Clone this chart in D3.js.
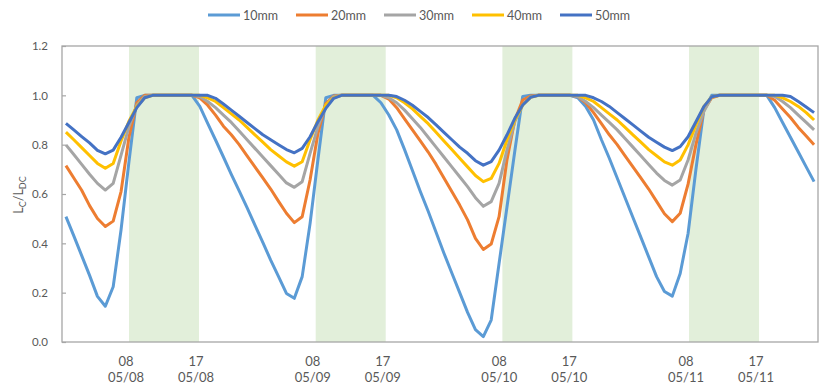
<!DOCTYPE html>
<html>
<head>
<meta charset="utf-8">
<script src="https://cdn.jsdelivr.net/npm/d3@7"></script>
<style>
  body { margin: 0; background: #fff; }
  text { font-family: Lato, "Open Sans", "Liberation Sans", sans-serif; fill: #595959; }
</style>
</head>
<body>
<svg id="chart" width="821" height="389"></svg>
<script>
// Hourly light ratio Lc/LDC for five depths, 05/08 00:00 – 05/11 23:00
const seriesNames = ["10mm", "20mm", "30mm", "40mm", "50mm"];
const seriesColors = ["#5B9BD5", "#ED7D31", "#A5A5A5", "#FFC000", "#4472C4"];

const mm10 = [
  0.508, 0.43, 0.35, 0.27, 0.185, 0.145, 0.224, 0.455, 0.73, 0.99, 1.0, 1.0,
  1.0, 1.0, 1.0, 1.0, 1.0, 0.955, 0.886, 0.819, 0.75, 0.68, 0.613, 0.545,
  0.474, 0.404, 0.332, 0.265, 0.197, 0.177, 0.265, 0.48, 0.74, 0.99, 1.0, 1.0,
  1.0, 1.0, 1.0, 1.0, 0.97, 0.92, 0.86, 0.78, 0.695, 0.61, 0.53, 0.445,
  0.36, 0.28, 0.2, 0.12, 0.05, 0.022, 0.089, 0.318, 0.546, 0.774, 0.995, 1.0,
  1.0, 1.0, 1.0, 1.0, 1.0, 0.99, 0.955, 0.9, 0.82, 0.745, 0.665, 0.585,
  0.505, 0.425, 0.345, 0.265, 0.205, 0.186, 0.278, 0.44, 0.70, 0.94, 1.0, 1.0,
  1.0, 1.0, 1.0, 1.0, 1.0, 1.0, 0.95, 0.89, 0.83, 0.77, 0.71, 0.65
];
const mm20 = [
  0.715, 0.665, 0.615, 0.553, 0.501, 0.468, 0.49, 0.61, 0.83, 0.97, 1.0, 1.0,
  1.0, 1.0, 1.0, 1.0, 1.0, 0.99, 0.96, 0.92, 0.875, 0.84, 0.80, 0.755,
  0.71, 0.665, 0.62, 0.57, 0.522, 0.484, 0.508, 0.657, 0.846, 0.967, 0.997, 1.0,
  1.0, 1.0, 1.0, 1.0, 1.0, 0.985, 0.95, 0.905, 0.86, 0.815, 0.77, 0.72,
  0.665, 0.61, 0.555, 0.495, 0.42, 0.375, 0.397, 0.508, 0.738, 0.9, 0.981, 0.997,
  1.0, 1.0, 1.0, 1.0, 1.0, 0.995, 0.97, 0.93, 0.885, 0.84, 0.80, 0.755,
  0.71, 0.665, 0.62, 0.57, 0.52, 0.488, 0.522, 0.64, 0.80, 0.94, 0.99, 1.0,
  1.0, 1.0, 1.0, 1.0, 1.0, 1.0, 0.98, 0.945, 0.91, 0.87, 0.835, 0.80
];
const mm30 = [
  0.799, 0.76, 0.72, 0.68, 0.643, 0.616, 0.643, 0.758, 0.873, 0.96, 0.995, 1.0,
  1.0, 1.0, 1.0, 1.0, 1.0, 0.995, 0.975, 0.95, 0.92, 0.89, 0.855, 0.82,
  0.785, 0.75, 0.715, 0.68, 0.645, 0.627, 0.65, 0.765, 0.873, 0.96, 0.995, 1.0,
  1.0, 1.0, 1.0, 1.0, 1.0, 0.99, 0.97, 0.94, 0.905, 0.87, 0.83, 0.79,
  0.75, 0.71, 0.67, 0.63, 0.585, 0.55, 0.569, 0.643, 0.778, 0.893, 0.961, 0.994,
  1.0, 1.0, 1.0, 1.0, 1.0, 0.995, 0.975, 0.95, 0.92, 0.89, 0.86, 0.825,
  0.79, 0.755, 0.72, 0.685, 0.655, 0.636, 0.657, 0.738, 0.846, 0.934, 0.994, 1.0,
  1.0, 1.0, 1.0, 1.0, 1.0, 1.0, 0.995, 0.975, 0.95, 0.92, 0.89, 0.86
];
const mm40 = [
  0.851, 0.82, 0.788, 0.756, 0.724, 0.704, 0.724, 0.815, 0.895, 0.955, 0.99, 1.0,
  1.0, 1.0, 1.0, 1.0, 1.0, 1.0, 0.99, 0.975, 0.95, 0.925, 0.9, 0.87,
  0.84, 0.81, 0.78, 0.755, 0.73, 0.713, 0.731, 0.82, 0.9, 0.96, 0.99, 1.0,
  1.0, 1.0, 1.0, 1.0, 1.0, 1.0, 0.99, 0.97, 0.945, 0.915, 0.885, 0.85,
  0.815, 0.78, 0.745, 0.71, 0.675, 0.65, 0.663, 0.724, 0.819, 0.9, 0.961, 0.992,
  1.0, 1.0, 1.0, 1.0, 1.0, 1.0, 0.99, 0.975, 0.95, 0.925, 0.9, 0.87,
  0.84, 0.81, 0.78, 0.755, 0.73, 0.717, 0.738, 0.799, 0.88, 0.954, 0.994, 1.0,
  1.0, 1.0, 1.0, 1.0, 1.0, 1.0, 1.0, 0.99, 0.975, 0.955, 0.93, 0.90
];
const mm50 = [
  0.886, 0.86, 0.833, 0.807, 0.777, 0.763, 0.778, 0.83, 0.89, 0.95, 0.99, 1.0,
  1.0, 1.0, 1.0, 1.0, 1.0, 1.0, 1.0, 0.988, 0.965, 0.94, 0.915, 0.89,
  0.865, 0.84, 0.82, 0.80, 0.78, 0.767, 0.785, 0.832, 0.893, 0.947, 0.988, 1.0,
  1.0, 1.0, 1.0, 1.0, 1.0, 1.0, 0.995, 0.98, 0.96, 0.935, 0.91, 0.88,
  0.85, 0.82, 0.79, 0.765, 0.735, 0.717, 0.731, 0.778, 0.839, 0.907, 0.961, 0.992,
  1.0, 1.0, 1.0, 1.0, 1.0, 1.0, 1.0, 0.99, 0.975, 0.955, 0.93, 0.905,
  0.88, 0.855, 0.83, 0.81, 0.79, 0.776, 0.792, 0.832, 0.893, 0.954, 0.994, 1.0,
  1.0, 1.0, 1.0, 1.0, 1.0, 1.0, 1.0, 1.0, 0.995, 0.975, 0.953, 0.93
];
const seriesValues = [mm10, mm20, mm30, mm40, mm50];

// Daylight windows (hours from 05/08 00:00) and axis labels
const dayBands = [[8, 17], [32, 41], [56, 65], [80, 89]];
const tickHours = [8, 17, 32, 41, 56, 65, 80, 89];
const tickHourLabels = ["08", "17", "08", "17", "08", "17", "08", "17"];
const tickDateLabels = ["05/08", "05/08", "05/09", "05/09", "05/10", "05/10", "05/11", "05/11"];
const yTicks = [0, 0.2, 0.4, 0.6, 0.8, 1.0, 1.2];

const svg = d3.select("#chart");
const plot = { left: 62, right: 818, top: 46, bottom: 342 };

// One category per hourly sample
const xCat = d3.scaleBand()
  .domain(d3.range(mm10.length))
  .range([plot.left, plot.right]);
const xPoint = i => xCat(i) + xCat.bandwidth() / 2;

// Clock-time scale for the daylight shading and the time labels
const xHour = d3.scaleLinear().domain([0, 96]).range([66.8, 813.5]);

const y = d3.scaleLinear().domain([0, 1.2]).range([plot.bottom, plot.top]);

// Daylight shading
svg.append("g").selectAll("rect")
  .data(dayBands)
  .join("rect")
  .attr("x", d => xHour(d[0]))
  .attr("y", plot.top)
  .attr("width", d => xHour(d[1]) - xHour(d[0]))
  .attr("height", plot.bottom - plot.top)
  .attr("fill", "#E2EFDA");

// Y axis (ticks inside the frame)
const yAxis = d3.axisLeft(y)
  .tickValues(yTicks)
  .tickFormat(d3.format(".1f"))
  .tickSize(-4)
  .tickPadding(14);
const gy = svg.append("g").attr("transform", `translate(${plot.left},0)`).call(yAxis);
gy.select(".domain").remove();
gy.selectAll(".tick line").attr("stroke", "#A6A6A6").attr("stroke-width", 1.2);
gy.selectAll(".tick text").attr("font-size", 11.5).attr("fill", "#595959")
  .style("font-family", "Lato, 'Open Sans', sans-serif");

// Plot frame
svg.append("rect")
  .attr("x", plot.left).attr("y", plot.top)
  .attr("width", plot.right - plot.left).attr("height", plot.bottom - plot.top)
  .attr("fill", "none").attr("stroke", "#A6A6A6").attr("stroke-width", 1.3);

// Series lines
const line = d3.line().x((d, i) => xPoint(i)).y(d => y(d));
svg.append("g").selectAll("path")
  .data(seriesValues)
  .join("path")
  .attr("d", d => line(d))
  .attr("fill", "none")
  .attr("stroke", (d, i) => seriesColors[i])
  .attr("stroke-width", 3)
  .attr("stroke-linejoin", "round");

// Time labels below the frame
const xl = svg.append("g").selectAll("text")
  .data(tickHours)
  .join("text")
  .attr("text-anchor", "middle")
  .attr("font-size", 13)
  .attr("x", d => xHour(d) - 3);
xl.append("tspan").attr("x", d => xHour(d) - 3).attr("y", 366).text((d, i) => tickHourLabels[i]);
xl.append("tspan").attr("x", d => xHour(d) - 3).attr("y", 382).text((d, i) => tickDateLabels[i]);

// Y axis title: Lc / LDC
const title = svg.append("text")
  .attr("transform", "translate(23,195) rotate(-90)")
  .attr("text-anchor", "middle")
  .attr("font-size", 12.5);
title.append("tspan").text("L");
title.append("tspan").attr("font-size", 9).attr("dy", 3).text("C");
title.append("tspan").attr("dy", -3).text("/L");
title.append("tspan").attr("font-size", 9).attr("dy", 3).text("DC");

// Legend
const legend = svg.append("g").selectAll("g")
  .data(seriesNames)
  .join("g")
  .attr("transform", (d, i) => `translate(${208 + i * 88},15)`);
legend.append("line")
  .attr("x1", 0).attr("x2", 32).attr("y1", 0).attr("y2", 0)
  .attr("stroke", (d, i) => seriesColors[i]).attr("stroke-width", 3);
legend.append("text")
  .attr("x", 35).attr("y", 4.5)
  .attr("font-size", 12.5)
  .text(d => d);
</script>
</body>
</html>
